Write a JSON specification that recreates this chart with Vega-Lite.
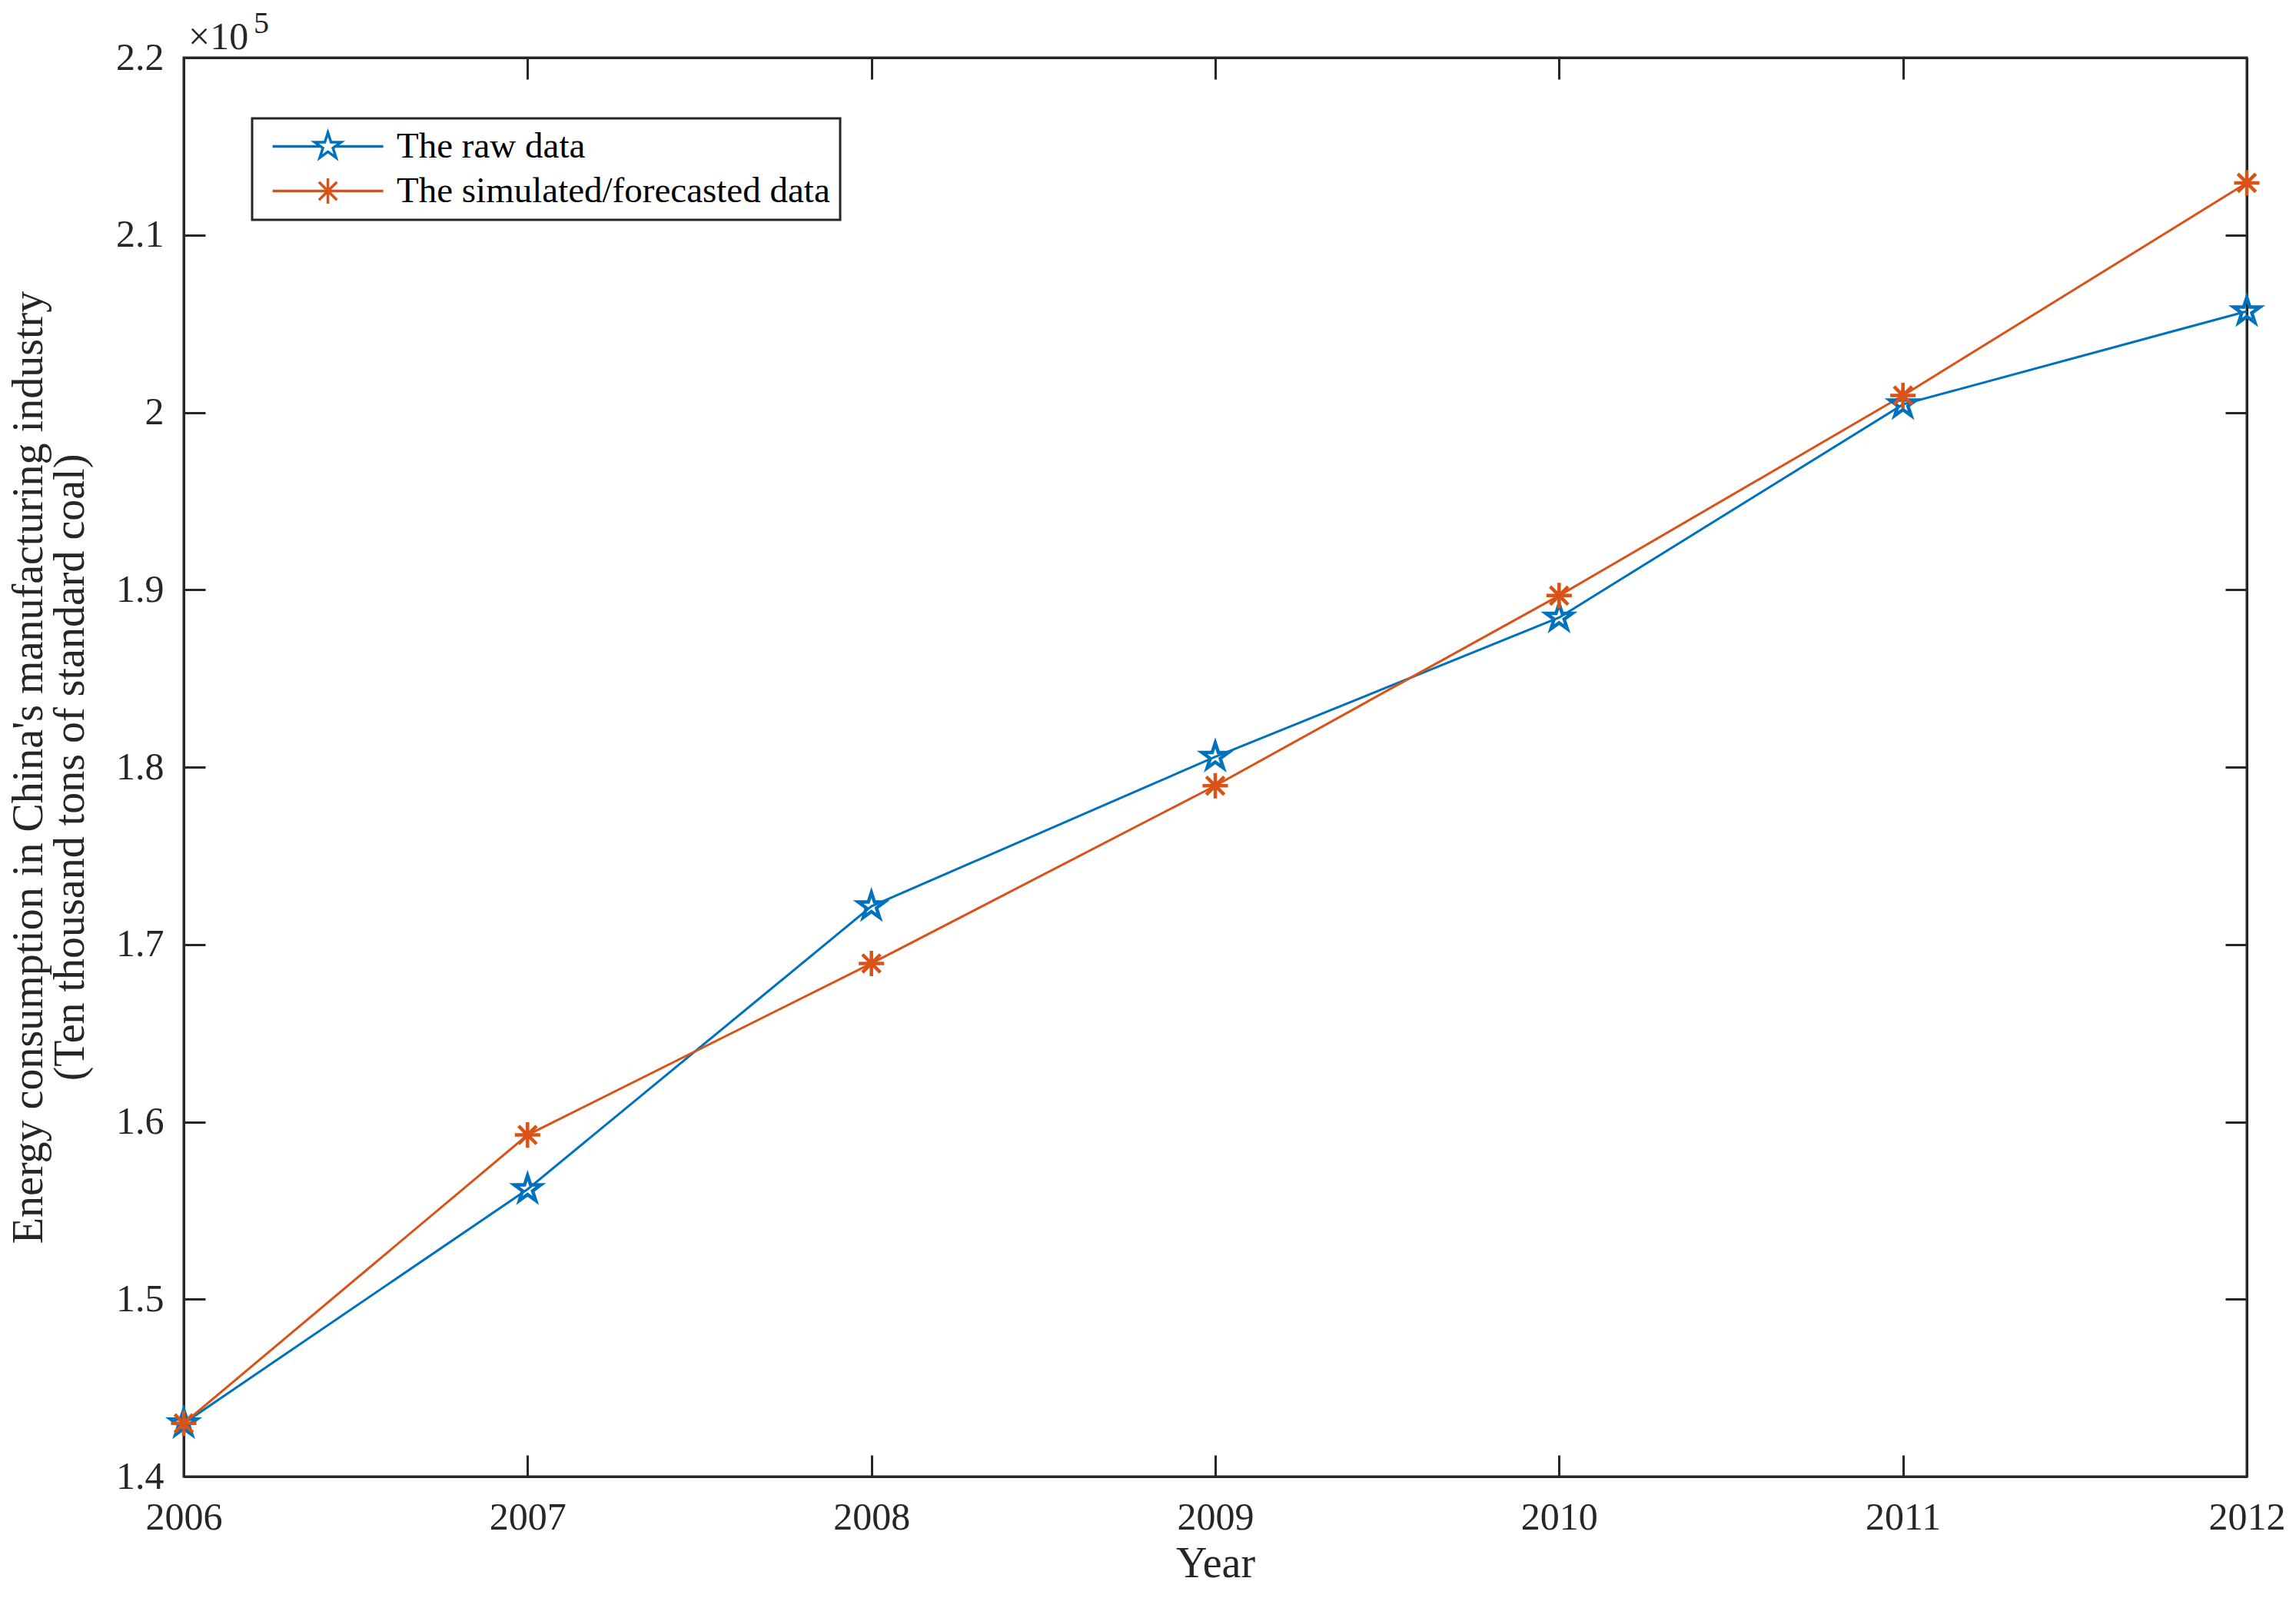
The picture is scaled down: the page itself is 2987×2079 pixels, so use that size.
{
  "$schema": "https://vega.github.io/schema/vega-lite/v6.json",
  "width": 2684,
  "height": 1846,
  "autosize": "none",
  "padding": {"left": 239, "top": 75, "right": 64, "bottom": 158},
  "background": "white",
  "config": {
    "font": "Liberation Serif",
    "view": {"stroke": "#262626", "strokeWidth": 3},
    "axis": {
      "domainColor": "#262626",
      "domainWidth": 3,
      "tickColor": "#262626",
      "tickWidth": 3,
      "tickSize": -28,
      "labelFont": "Liberation Serif",
      "labelFontSize": 50,
      "labelColor": "#262626",
      "titleFont": "Liberation Serif",
      "titleFontSize": 56,
      "titleFontWeight": "normal",
      "titleColor": "#262626",
      "grid": false
    }
  },
  "data": {
    "values": [
      {"year": 2006, "series": "The raw data", "value": 143000},
      {"year": 2007, "series": "The raw data", "value": 156200},
      {"year": 2008, "series": "The raw data", "value": 172150},
      {"year": 2009, "series": "The raw data", "value": 180580},
      {"year": 2010, "series": "The raw data", "value": 188430},
      {"year": 2011, "series": "The raw data", "value": 200450},
      {"year": 2012, "series": "The raw data", "value": 205700},
      {"year": 2006, "series": "The simulated/forecasted data", "value": 143000},
      {"year": 2007, "series": "The simulated/forecasted data", "value": 159260},
      {"year": 2008, "series": "The simulated/forecasted data", "value": 168930},
      {"year": 2009, "series": "The simulated/forecasted data", "value": 178950},
      {"year": 2010, "series": "The simulated/forecasted data", "value": 189670},
      {"year": 2011, "series": "The simulated/forecasted data", "value": 200950},
      {"year": 2012, "series": "The simulated/forecasted data", "value": 212940}
    ]
  },
  "layer": [
    {
      "mark": {"type": "line", "strokeWidth": 3},
      "encoding": {
        "x": {
          "field": "year",
          "type": "quantitative",
          "scale": {"domain": [2006, 2012], "nice": false, "zero": false},
          "axis": {
            "orient": "bottom",
            "values": [2006, 2007, 2008, 2009, 2010, 2011, 2012],
            "format": "d",
            "labelPadding": 56,
            "labelFlush": false,
            "title": "Year",
            "titlePadding": 8
          }
        },
        "y": {
          "field": "value",
          "type": "quantitative",
          "scale": {"domain": [140000, 220000], "nice": false, "zero": false},
          "axis": {
            "orient": "left",
            "values": [140000, 150000, 160000, 170000, 180000, 190000, 200000, 210000, 220000],
            "labelExpr": "format(datum.value / 100000, '~g')",
            "labelPadding": 54,
            "labelFlush": false,
            "title": ["Energy consumption in China's manufacturing industry", "(Ten thousand tons of standard coal)"],
            "titlePadding": 30,
            "titleLineHeight": 54
          }
        },
        "color": {
          "field": "series",
          "type": "nominal",
          "scale": {"domain": ["The raw data", "The simulated/forecasted data"], "range": ["#0072BD", "#D95319"]},
          "legend": {
            "title": null,
            "orient": "none",
            "legendX": 89,
            "legendY": 79,
            "padding": 13,
            "rowPadding": 10,
            "strokeColor": "#262626",
            "fillColor": "white",
            "labelFont": "Liberation Serif",
            "labelFontSize": 47,
            "labelColor": "#000000",
            "labelLimit": 2000,
            "labelOffset": 128,
            "symbolSize": 1296,
            "symbolStrokeWidth": 3.5,
            "encode": {
              "legend": {
                "update": {
                  "strokeWidth": {"value": 3}
                }
              },
              "symbols": {
                "update": {
                  "shape": {"signal": "datum.value === 'The raw data' ? 'M-0.55,0L2.85,0M4.05,0L7.45,0M3.45,-1L3.6745,-0.309L4.401,-0.309L3.813,0.118L4.038,0.809L3.45,0.382L2.862,0.809L3.087,0.118L2.499,-0.309L3.2255,-0.309Z' : 'M-0.55,0L7.45,0M3.45,-0.92L3.45,0.92M2.8,-0.65L4.1,0.65M2.8,0.65L4.1,-0.65'"},
                  "fill": {"value": "transparent"}
                }
              }
            }
          }
        }
      }
    },
    {
      "transform": [{"filter": "datum.series === 'The raw data'"}],
      "mark": {
        "type": "point",
        "filled": false,
        "strokeWidth": 4.5,
        "size": 1296,
        "opacity": 1,
        "shape": "M0,-1L0.2245,-0.309L0.951,-0.309L0.363,0.118L0.588,0.809L0,0.382L-0.588,0.809L-0.363,0.118L-0.951,-0.309L-0.2245,-0.309Z"
      },
      "encoding": {
        "x": {
          "field": "year",
          "type": "quantitative",
          "axis": {"orient": "top", "values": [2006, 2007, 2008, 2009, 2010, 2011, 2012], "labels": false, "title": null}
        },
        "y": {
          "field": "value",
          "type": "quantitative",
          "axis": {"orient": "right", "values": [140000, 150000, 160000, 170000, 180000, 190000, 200000, 210000, 220000], "labels": false, "title": null}
        },
        "color": {"field": "series", "type": "nominal", "legend": null}
      }
    },
    {
      "transform": [{"filter": "datum.series === 'The simulated/forecasted data'"}],
      "mark": {
        "type": "point",
        "filled": false,
        "strokeWidth": 4.5,
        "size": 1296,
        "opacity": 1,
        "shape": "M-0.92,0L0.92,0M0,-0.92L0,0.92M-0.65,-0.65L0.65,0.65M-0.65,0.65L0.65,-0.65"
      },
      "encoding": {
        "x": {"field": "year", "type": "quantitative", "axis": null},
        "y": {"field": "value", "type": "quantitative", "axis": null},
        "color": {"field": "series", "type": "nominal", "legend": null}
      }
    },
    {
      "data": {"values": [{"label": "×10"}]},
      "mark": {"type": "text", "align": "left", "baseline": "alphabetic", "dx": 6, "dy": -11, "fontSize": 50, "font": "Liberation Serif", "color": "#262626"},
      "encoding": {
        "x": {"datum": 2006, "type": "quantitative", "axis": null},
        "y": {"datum": 220000, "type": "quantitative", "axis": null},
        "text": {"field": "label"}
      }
    },
    {
      "data": {"values": [{"label": "5"}]},
      "mark": {"type": "text", "align": "left", "baseline": "alphabetic", "dx": 91, "dy": -32, "fontSize": 40, "font": "Liberation Serif", "color": "#262626"},
      "encoding": {
        "x": {"datum": 2006, "type": "quantitative", "axis": null},
        "y": {"datum": 220000, "type": "quantitative", "axis": null},
        "text": {"field": "label"}
      }
    }
  ],
  "resolve": {"axis": {"x": "independent", "y": "independent"}}
}
